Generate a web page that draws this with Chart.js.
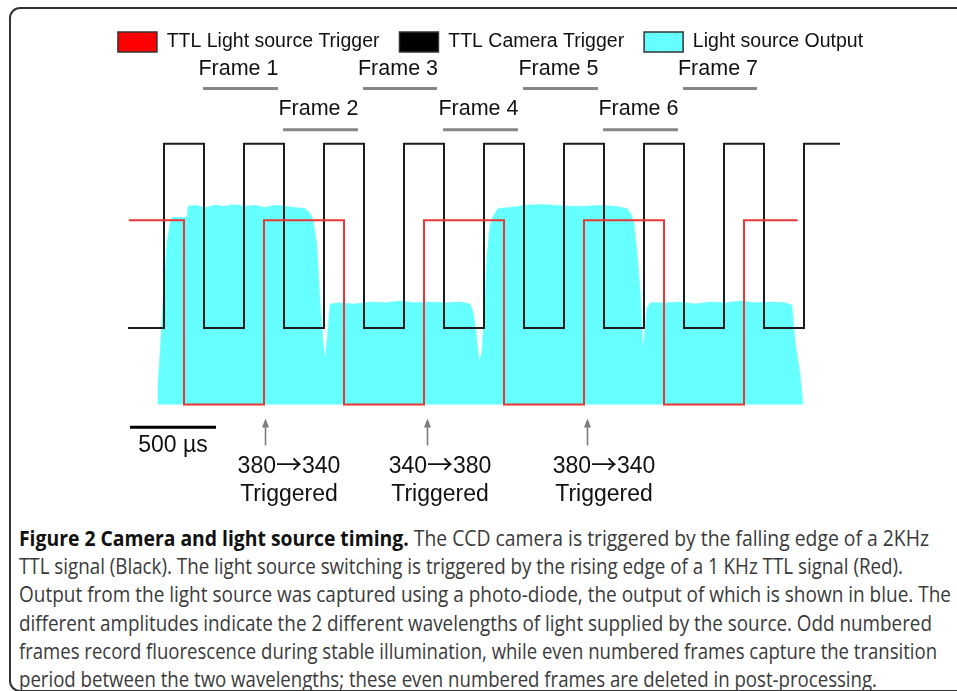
<!DOCTYPE html>
<html><head><meta charset="utf-8">
<script src="https://cdn.jsdelivr.net/npm/chart.js@4.4.1/dist/chart.umd.min.js"></script>
<style>
html,body{margin:0;padding:0;background:#fff;width:957px;height:691px;overflow:hidden;position:relative;}
#frame{position:absolute;left:9px;top:7px;width:1000px;height:685px;box-sizing:border-box;border:2px solid #333;border-radius:11px;}
#c{position:absolute;left:0;top:0;}
#cap{position:absolute;left:19px;top:524px;font-family:'Open Sans';font-size:21.5px;line-height:28.2px;color:#3a3a3a;white-space:nowrap;}
#cap .l{height:28.2px;}
#cap .l span{display:inline-block;transform-origin:0 50%;}
#cap b{color:#111;font-weight:700;}
</style></head><body>
<div id="frame"></div>
<canvas id="c" width="957" height="520"></canvas>
<div id="cap">
<div class="l"><span><b>Figure 2 Camera and light source timing.</b> The CCD camera is triggered by the falling edge of a 2KHz</span></div>
<div class="l"><span>TTL signal (Black). The light source switching is triggered by the rising edge of a 1 KHz TTL signal (Red).</span></div>
<div class="l"><span>Output from the light source was captured using a photo-diode, the output of which is shown in blue. The</span></div>
<div class="l"><span>different amplitudes indicate the 2 different wavelengths of light supplied by the source. Odd numbered</span></div>
<div class="l"><span>frames record fluorescence during stable illumination, while even numbered frames capture the transition</span></div>
<div class="l"><span>period between the two wavelengths; these even numbered frames are deleted in post-processing.</span></div>
</div>
<script>
// ---- data (time in µs, level in V, offset traces) ----
const cameraTimes  = [25,250,500,750,1000,1250,1500,1750,2000,2250,2500,2750,3000,3250,3500,3750,4000,4250,4475];
const cameraLevels = [2.08,7.08,2.08,7.08,2.08,7.08,2.08,7.08,2.08,7.08,2.08,7.08,2.08,7.08,2.08,7.08,2.08,7.08,7.08];
const lightTrigTimes  = [30,375,875,1375,1875,2375,2875,3375,3875,4210];
const lightTrigLevels = [5,0,5,0,5,0,5,0,5,5];
const outputTimes = [212,212,225,244,269,288,300,394,400,444,506,569,631,694,756,819,881,944,1006,1069,1131,1162,1181,1206,1225,1244,1256,1269,1288,1350,1444,1537,1631,1725,1819,1912,2006,2100,2162,2181,2200,2219,2237,2256,2269,2287,2306,2338,2412,2506,2600,2694,2787,2881,2975,3069,3144,3169,3187,3206,3225,3244,3256,3269,3288,3381,3475,3569,3662,3756,3850,3944,4037,4131,4175,4194,4225,4244];
const outputLevels = [0,0.57,1.38,2.81,4.43,4.92,5.08,5.08,5.38,5.41,5.35,5.41,5.38,5.43,5.38,5.41,5.35,5.41,5.38,5.35,5.32,5.19,5.03,4.30,2.81,1.73,1.24,1.73,2.73,2.76,2.73,2.78,2.76,2.81,2.76,2.78,2.76,2.78,2.73,2.54,2.0,1.19,1.41,2.81,4.08,4.84,5.11,5.32,5.35,5.41,5.43,5.41,5.38,5.38,5.41,5.38,5.32,5.16,4.92,4.16,3.16,1.46,2.0,2.62,2.76,2.76,2.78,2.73,2.78,2.76,2.81,2.76,2.78,2.76,2.70,1.73,0.84,0];
const frameLabels = ['Frame 1','Frame 2','Frame 3','Frame 4','Frame 5','Frame 6','Frame 7'];
const frameStarts = [494,994,1494,1994,2494,2994,3494];
const frameEnds   = [962,1462,1956,2462,2962,3462,3956];
const frameBarLevels   = [8.58,7.46];   // odd, even rows
const frameLabelLevels = [8.95,7.87];
const triggerTimes = [881,1894,2894];
const triggerLabelTimes = [1031,1975,3000];
const triggerFrom = ['380','340','380'];
const triggerTo   = ['340','380','340'];
const triggerLabel2 = 'Triggered';
const arrowTip = -0.38, arrowBase = -1.11;
const triggerLabelLevels = [-1.86,-2.62];
const scaleBarTimes = [37,575];
const scaleBarLevel = -0.62;
const scaleBarLabel = '500 µs';
const scaleBarLabelPos = [306,-1.30];
const captionLineEnds = [929,903,951,932,937,877];

const pts = (ts, vs) => ts.map((t,i)=>({x:t,y:vs[i]}));
function barPts(row){
  const out=[];
  frameStarts.forEach((s,i)=>{ if(i%2===row){ out.push({x:s,y:frameBarLevels[row]},{x:frameEnds[i],y:frameBarLevels[row]},{x:frameEnds[i]+1,y:null}); }});
  return out;
}

const LAB_FONT='23px "Liberation Sans", Arial, sans-serif';
const ARROW_FONT='26px "Noto Sans CJK SC", "DejaVu Sans", sans-serif';
const labelPlugin = {
  id:'labels',
  afterDraw(chart){
    const {ctx, scales:{x,y}} = chart;
    ctx.save();
    ctx.fillStyle='#111'; ctx.textAlign='center'; ctx.textBaseline='alphabetic';
    ctx.font='21.5px "Liberation Sans", Arial, sans-serif';
    frameLabels.forEach((lab,i)=>{
      const cx = x.getPixelForValue((frameStarts[i]+frameEnds[i])/2) - 2;
      ctx.fillText(lab, cx, y.getPixelForValue(frameLabelLevels[i%2]));
    });
    ctx.strokeStyle='#7d7d7d'; ctx.fillStyle='#7d7d7d'; ctx.lineWidth=1.6;
    triggerTimes.forEach(t=>{
      const px = Math.round(x.getPixelForValue(t))+0.5;
      const y0 = y.getPixelForValue(arrowTip), y1 = y.getPixelForValue(arrowBase);
      ctx.beginPath(); ctx.moveTo(px,y1); ctx.lineTo(px,y0+6); ctx.stroke();
      ctx.beginPath(); ctx.moveTo(px,y0); ctx.lineTo(px-3.5,y0+9); ctx.lineTo(px+3.5,y0+9); ctx.closePath(); ctx.fill();
    });
    ctx.fillStyle='#111';
    triggerLabelTimes.forEach((t,i)=>{
      const cx = x.getPixelForValue(t);
      const by = y.getPixelForValue(triggerLabelLevels[0]);
      ctx.font=LAB_FONT; const wa=ctx.measureText(triggerFrom[i]).width, wc=ctx.measureText(triggerTo[i]).width;
      ctx.font=ARROW_FONT; const wb=ctx.measureText('→').width;
      let sx = cx-(wa+wb+wc)/2;
      ctx.textAlign='left';
      ctx.font=LAB_FONT; ctx.fillText(triggerFrom[i], sx, by);
      ctx.font=ARROW_FONT; ctx.fillText('→', sx+wa, by+1);
      ctx.font=LAB_FONT; ctx.fillText(triggerTo[i], sx+wa+wb, by);
      ctx.textAlign='center';
      ctx.fillText(triggerLabel2, cx, y.getPixelForValue(triggerLabelLevels[1]));
    });
    ctx.font=LAB_FONT;
    ctx.fillText(scaleBarLabel, x.getPixelForValue(scaleBarLabelPos[0]), y.getPixelForValue(scaleBarLabelPos[1]));
    ctx.restore();
  }
};

const legendFills = ['rgb(255,0,0)','#000000','rgb(102,255,255)'];
new Chart(document.getElementById('c'), {
  type:'line',
  data:{datasets:[
    {label:'TTL Light source Trigger', data:pts(lightTrigTimes,lightTrigLevels), borderColor:'rgb(232,55,55)', backgroundColor:'rgb(255,0,0)', borderWidth:2, stepped:'before', pointRadius:0, fill:false, order:1},
    {label:'TTL Camera Trigger', data:pts(cameraTimes,cameraLevels), borderColor:'#1c1c1c', backgroundColor:'#000', borderWidth:2, stepped:'before', pointRadius:0, fill:false, order:2},
    {label:'Light source Output', data:pts(outputTimes,outputLevels), borderColor:'rgba(102,255,255,1)', borderWidth:0.5, backgroundColor:'rgb(102,255,255)', fill:'origin', pointRadius:0, tension:0, order:3},
    {label:'odd frames', data:barPts(0), borderColor:'#878787', borderWidth:3, pointRadius:0, spanGaps:false, fill:false, order:4},
    {label:'even frames', data:barPts(1), borderColor:'#878787', borderWidth:3, pointRadius:0, spanGaps:false, fill:false, order:5},
    {label:'scale', data:scaleBarTimes.map(t=>({x:t,y:scaleBarLevel})), borderColor:'#000', borderWidth:3, pointRadius:0, fill:false, order:6}
  ]},
  options:{
    responsive:false, animation:false, devicePixelRatio:1,
    layout:{padding:{left:24,top:12,right:0,bottom:0}, autoPadding:false},
    scales:{
      x:{type:'linear', min:-625, max:5206.25, display:false},
      y:{type:'linear', min:-3.1352, max:9.2973, display:false}
    },
    plugins:{
      tooltip:{enabled:false},
      legend:{position:'top', align:'center',
        labels:{boxWidth:39, boxHeight:20, padding:20, color:'#111',
          font:{family:'"Liberation Sans", Arial, sans-serif', size:19.5},
          filter:(it)=>it.datasetIndex<3,
          generateLabels:(chart)=>Chart.defaults.plugins.legend.labels.generateLabels(chart)
            .filter(i=>i.datasetIndex<3)
            .map(i=>Object.assign(i,{fillStyle:legendFills[i.datasetIndex], strokeStyle:'#333', lineWidth:1.5, fontColor:'#111'}))
        }}
    }
  },
  plugins:[labelPlugin]
});

function fitCaption(){
  const spans=document.querySelectorAll('#cap .l span');
  spans.forEach((sp,i)=>{
    sp.style.transform='none';
    const w=sp.getBoundingClientRect().width;
    sp.style.transform='scaleX('+((captionLineEnds[i]-19)/w)+')';
  });
}
fitCaption();
if(document.fonts&&document.fonts.ready){document.fonts.ready.then(fitCaption);}
</script>
</body></html>
